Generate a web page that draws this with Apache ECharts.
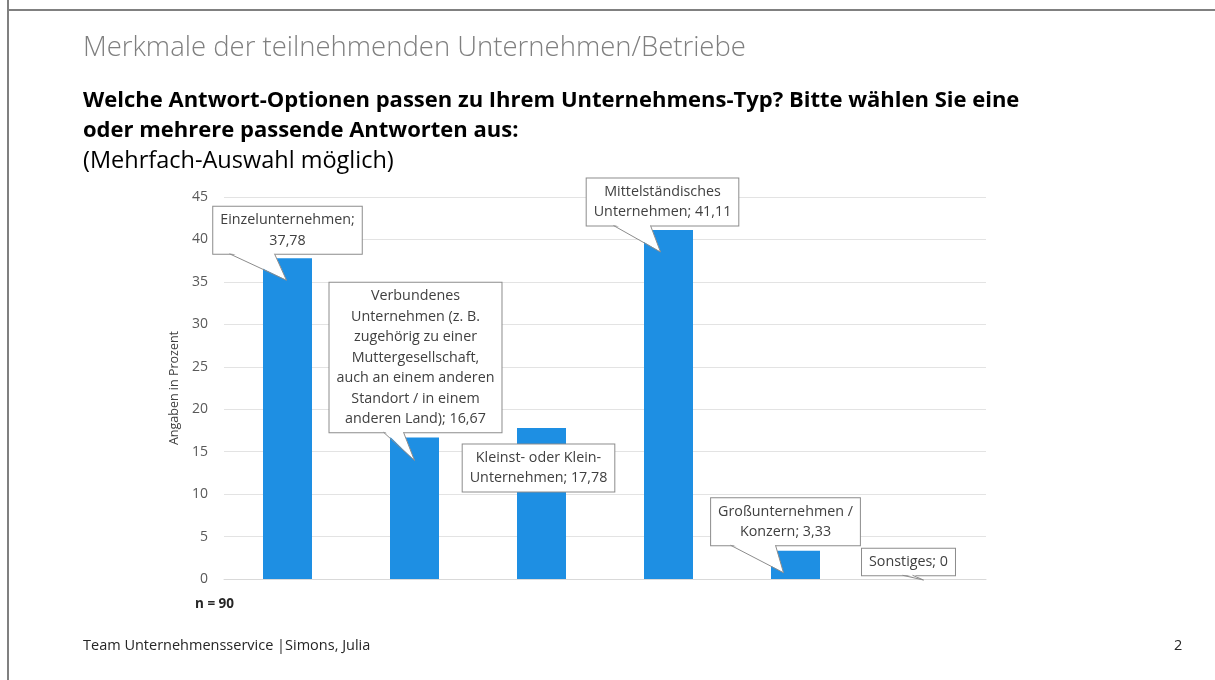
<!DOCTYPE html>
<html>
<head>
<meta charset="utf-8">
<script src="https://cdn.jsdelivr.net/npm/echarts@6/dist/echarts.min.js"></script>
<style>
html,body{margin:0;padding:0;background:#fff;}
#chart{width:1215px;height:680px;}
</style>
</head>
<body>
<div id="chart"></div>
<script>
// ---- data ----
const categories = [
  'Einzelunternehmen',
  'Verbundenes\nUnternehmen (z. B.\nzugehörig zu einer\nMuttergesellschaft,\nauch an einem anderen\nStandort / in einem\nanderen Land)',
  'Kleinst- oder Klein-\nUnternehmen',
  'Mittelständisches\nUnternehmen',
  'Großunternehmen /\nKonzern',
  'Sonstiges'
];
const values = [37.78, 16.67, 17.78, 41.11, 3.33, 0];
const yTicks = [0, 5, 10, 15, 20, 25, 30, 35, 40, 45];

const pageTitle = 'Merkmale der teilnehmenden Unternehmen/Betriebe';
const questionLines = ['Welche Antwort-Optionen passen zu Ihrem Unternehmens-Typ? Bitte wählen Sie eine', 'oder mehrere passende Antworten aus:'];
const subtitle = '(Mehrfach-Auswahl möglich)';
const yAxisName = 'Angaben in Prozent';
const nNote = 'n = 90';
const footer = 'Team Unternehmensservice |Simons, Julia';
const pageNo = '2';

// ---- callout layout (pixel offsets relative to bar top) ----
const calloutLayout = [
  {sep: ';\n', dx: 0,   dy: -28, base: [-58, -13], tip: [-1, 22]},
  {sep: '; ',  dx: 1,   dy: -80, base: [-32, -12], tip: [0, 23]},
  {sep: '; ',  dx: -3,  dy: 40,  base: null,       tip: null},
  {sep: '; ',  dx: -6,  dy: -28, base: [-49, -12], tip: [-8, 22]},
  {sep: '; ',  dx: -10, dy: -29, base: [-55, -10], tip: [-12, 22]},
  {sep: '; ',  dx: -14, dy: -17, base: [-6, 4],    tip: [1, 1]}
];

const fmt = v => v.toFixed(2).replace(/\.00$/, '').replace('.', ',');
const labelFont = '14.3px "Open Sans", sans-serif';
const LH = 20.5, PV = 3, PH = 7;

const chart = echarts.init(document.getElementById('chart'));

const option = {
  backgroundColor: '#fff',
  animation: false,
  textStyle: {fontFamily: '"Open Sans", sans-serif'},
  grid: {left: 224, right: 229, top: 197, bottom: 101, containLabel: false},
  xAxis: {
    type: 'category',
    data: categories,
    axisLine: {show: true, lineStyle: {color: '#d9d9d9'}},
    axisTick: {show: false},
    axisLabel: {show: false}
  },
  yAxis: {
    type: 'value',
    min: yTicks[0],
    max: yTicks[yTicks.length - 1],
    interval: yTicks[1] - yTicks[0],
    name: yAxisName,
    nameLocation: 'middle',
    nameGap: 35,
    nameTextStyle: {color: '#404040', fontSize: 12.5, fontFamily: '"Open Sans", sans-serif'},
    axisLine: {show: false},
    axisTick: {show: false},
    axisLabel: {color: '#595959', fontSize: 14, margin: 16, fontFamily: '"Open Sans", sans-serif'},
    splitLine: {lineStyle: {color: '#e3e3e3', width: 1}}
  },
  series: [
    {
      type: 'bar',
      data: values,
      barWidth: 49,
      itemStyle: {color: '#1e8fe3'},
      z: 2
    },
    {
      type: 'custom',
      data: values.map((v, i) => [i, v]),
      encode: {x: 0, y: 1},
      clip: false,
      z: 5,
      renderItem: function (params, api) {
        const i = params.dataIndex;
        const L = calloutLayout[i];
        const top = api.coord([i, api.value(1)]);
        const text = categories[i] + L.sep + fmt(values[i]);
        const nLines = text.split('\n').length;
        const h = nLines * LH + 2 * PV;
        const cx = top[0] + L.dx, cy = top[1] + L.dy;
        const bottom = cy + h / 2;
        const children = [{
          type: 'text',
          style: {
            text: text, x: cx, y: cy, align: 'center', verticalAlign: 'middle',
            font: labelFont, fill: '#404040', lineHeight: LH,
            backgroundColor: '#ffffff', borderColor: '#8c8c8c', borderWidth: 1,
            padding: [PV, PH]
          }
        }];
        if (L.base) {
          const b1 = [cx + L.base[0], bottom], b2 = [cx + L.base[1], bottom];
          const t = [top[0] + L.tip[0], top[1] + L.tip[1]];
          children.push({
            type: 'polygon',
            shape: {points: [[b1[0] + 0.5, b1[1] - 1.5], [b2[0] - 0.5, b2[1] - 1.5], t]},
            style: {fill: '#ffffff', stroke: null}
          });
          children.push({
            type: 'polyline',
            shape: {points: [b1, t, b2]},
            style: {fill: null, stroke: '#8c8c8c', lineWidth: 1}
          });
        }
        return {type: 'group', children: children};
      }
    }
  ],
  graphic: [
    {type: 'line', shape: {x1: 8, y1: 0, x2: 8, y2: 680}, style: {stroke: '#808080', lineWidth: 2}},
    {type: 'line', shape: {x1: 7, y1: 10, x2: 1215, y2: 10}, style: {stroke: '#808080', lineWidth: 2}},
    {type: 'text', left: 83, top: 34, style: {text: pageTitle, fill: '#7f7f7f', font: '300 27.5px "Open Sans", sans-serif'}},
    {type: 'text', left: 83, top: 90, style: {text: questionLines[0], fill: '#000', font: 'bold 22px "Open Sans", sans-serif'}},
    {type: 'text', left: 83, top: 120, style: {text: questionLines[1], fill: '#000', font: 'bold 22px "Open Sans", sans-serif'}},
    {type: 'text', left: 83, top: 149, style: {text: subtitle, fill: '#000', font: '23.5px "Open Sans", sans-serif'}},
    {type: 'text', left: 195, top: 597, style: {text: nNote, fill: '#262626', font: 'bold 13.5px "Open Sans", sans-serif'}},
    {type: 'text', left: 83, top: 638, style: {text: footer, fill: '#262626', font: '14.5px "Open Sans", sans-serif'}},
    {type: 'text', left: 1174, top: 638, style: {text: pageNo, fill: '#262626', font: '14.5px "Open Sans", sans-serif'}}
  ]
};
chart.setOption(option);
</script>
</body>
</html>
